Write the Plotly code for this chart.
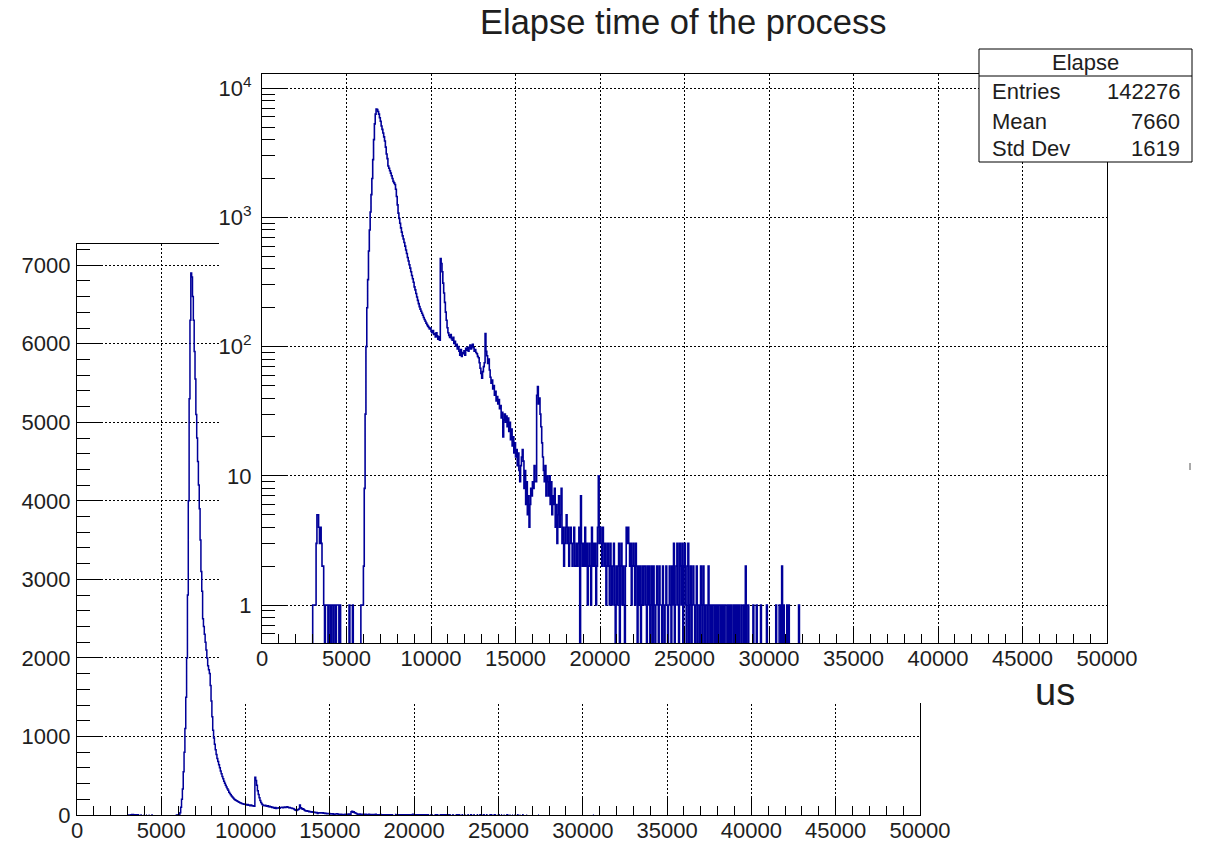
import numpy as np
import plotly.graph_objects as go

# ---------------------------------------------------------------------------
# Histogram "Elapse": 1000 bins of 50 us between 0 and 50000 us
# ---------------------------------------------------------------------------
BIN_WIDTH = 50
X_MIN, X_MAX = 0, 50000

# early cluster, bins starting at 3000 us
early_start = 3000
early_counts = [
    1, 1, 1, 1, 3, 5, 5, 4, 3, 4, 3, 2, 2, 1, 0, 1, 1, 1, 0, 1,
    1, 0, 1, 1, 0, 1, 1, 0, 1, 1, 1, 0, 1, 0, 0, 0, 0, 0, 0, 0,
    0, 0, 0, 1, 0, 0, 0, 1, 0, 0, 0, 0, 0, 0, 0, 0, 0, 1, 1, 1,
]

# main peak and its decay, bins starting at 6000 us
main_start = 6000
main_counts = [
    2, 8, 30, 100, 200, 330, 550, 800, 1100, 1500, 2000, 2800, 4000, 5300, 6300, 6900, 6850, 6600, 6300, 5900,
    5550, 5100, 4800, 4500, 4200, 3900, 3500, 3100, 2850, 2500, 2400, 2300, 2200, 2100, 2000, 1900, 1850, 1800, 1650, 1450,
    1250, 1080, 980, 900, 830, 770, 720, 680, 640, 600, 560, 525, 490, 460, 430, 405, 380, 355, 335, 315,
    290, 275, 258, 242, 228, 215, 204, 195, 188, 181, 175, 168, 162, 157, 152, 148, 144, 141, 137, 139,
    131, 128, 133, 124, 126, 119, 128, 121, 114, 119, 112, 480, 440, 380, 310, 260, 220, 185, 160, 140,
    128, 122, 118, 124, 115, 112, 118, 106, 110, 101, 104, 96, 100, 92, 86, 95, 84, 90, 88, 93,
    86, 97, 94, 99, 92, 98, 103, 96, 101, 104, 98, 92, 95, 90, 88, 84, 82, 75, 68, 62,
    57, 64, 70, 75, 126, 92, 85, 74, 80, 66, 58, 52, 55, 47, 50, 42, 45, 38, 41, 36,
    39, 33, 35, 28, 31, 20, 27, 30, 26, 29, 24, 28, 22, 26, 19, 23, 17, 20, 15, 18,
    14, 16, 12, 15, 11, 9, 12, 14, 16, 13, 8, 11, 6, 9, 5, 7, 4, 6, 8, 7,
    9, 8, 12, 9, 9, 42, 49, 36, 40, 30, 24, 18, 14, 11, 9, 12, 7, 10, 9, 7,
    10, 6, 9, 5, 7, 6, 8, 4, 6, 3, 5, 7, 4, 5, 8, 3, 4, 2, 3, 4,
    5, 3, 4, 2, 3, 4, 3, 2, 3, 4, 2, 2, 3, 2, 3, 4, 0, 7, 3, 2,
]

# long tail, bins starting at 19000 us
tail_start = 19000
tail_counts = [
    3, 2, 4, 2, 3, 1, 2, 3, 2, 1, 4, 2, 3, 2, 3, 1, 2, 4, 10, 3,
    4, 3, 2, 4, 3, 2, 3, 1, 2, 3, 2, 1, 3, 2, 1, 2, 3, 1, 0, 2,
    1, 2, 3, 0, 2, 3, 1, 2, 1, 0, 2, 4, 3, 4, 3, 2, 3, 1, 2, 3,
    2, 1, 3, 2, 0, 2, 1, 2, 0, 1, 2, 1, 2, 2, 1, 0, 2, 1, 2, 0,
    1, 2, 0, 2, 1, 0, 1, 2, 1, 0, 2, 1, 1, 0, 2, 1, 0, 1, 2, 1,
    0, 1, 2, 1, 0, 2, 1, 3, 0, 1, 2, 3, 1, 0, 3, 2, 1, 3, 0, 2,
    3, 1, 0, 2, 3, 0, 1, 2, 0, 1, 2, 1, 0, 1, 2, 0, 1, 1, 0, 2,
    1, 0, 2, 1, 0, 1, 1, 0, 2, 1, 0, 1, 0, 1, 1, 0, 1, 0, 1, 0,
    1, 1, 0, 1, 0, 1, 0, 1, 1, 0, 0, 1, 0, 1, 0, 1, 0, 0, 1, 0,
    1, 0, 1, 0, 1, 0, 0, 1, 0, 0, 1, 0, 2, 0, 0, 1, 0, 0, 0, 0,
    0, 1, 0, 0, 0, 1, 0, 0, 0, 0, 1, 0, 0, 0, 0, 0, 0, 1, 0, 0,
    0, 0, 0, 0, 0, 0, 0, 0, 1, 0, 0, 0, 1, 1, 0, 2, 0, 1, 0, 0,
    0, 1, 0, 1, 0, 0, 0, 0, 0, 0, 0, 0, 0, 0, 0, 1, 0, 0, 0, 0,
]

# statistics box
stats_title = "Elapse"
stats_labels = ["Entries", "Mean", "Std Dev"]
stats_values = ["142276", "7660", "1619"]

title_text = "Elapse time of the process"
x_title_text = "us"

x_tickvals = list(range(0, 50001, 5000))
lin_y_tickvals = list(range(0, 7001, 1000))
log_y_tickvals = [1, 10, 100, 1000, 10000]
log_y_ticktext = ["1", "10", "10<sup>2</sup>", "10<sup>3</sup>", "10<sup>4</sup>"]

# ---------------------------------------------------------------------------
# assemble the bin contents
# ---------------------------------------------------------------------------
n_bins = (X_MAX - X_MIN) // BIN_WIDTH
counts = np.zeros(n_bins)
for start, seg in ((early_start, early_counts),
                   (main_start, main_counts),
                   (tail_start, tail_counts)):
    i0 = (start - X_MIN) // BIN_WIDTH
    counts[i0:i0 + len(seg)] = seg

edges = X_MIN + BIN_WIDTH * np.arange(n_bins + 1)
y_step = np.append(counts, counts[-1])
# linear pad: empty bins are left out so the black frame stays visible
y_lin = [float(v) if v > 0 else None for v in y_step]
# log pad: empty bins fall below the frame so the outline drops out of view
y_log = np.where(y_step > 0, y_step, 0.1)

# ---------------------------------------------------------------------------
# geometry helpers (pixels -> paper fractions)
# ---------------------------------------------------------------------------
W, H = 1206, 841


def px_x(p):
    return p / W


def px_y(p):
    return 1 - p / H


FONT = "Liberation Sans, Arial, sans-serif"
TXT = "#1e1e1e"
LINE_COLOR = "#000099"
GRID = dict(showgrid=True, gridcolor="black", gridwidth=1, griddash="2px,2px")
FRAME = dict(showline=True, linecolor="black", linewidth=1.2, mirror=True,
             ticks="inside", tickcolor="black", tickwidth=1, zeroline=False,
             automargin=False,
             tickfont=dict(family=FONT, size=22, color=TXT))

fig = go.Figure()

# linear-scale histogram (main pad)
fig.add_trace(go.Scatter(
    x=edges, y=y_lin, mode="lines", line=dict(color=LINE_COLOR, width=1.5, shape="hv"),
    connectgaps=False, xaxis="x", yaxis="y", showlegend=False, hoverinfo="skip"))

# blank white pad that sits between the two plots
fig.add_trace(go.Scatter(
    x=[0.5], y=[0.5], mode="markers", marker=dict(opacity=0, size=1),
    xaxis="x2", yaxis="y2", showlegend=False, hoverinfo="skip"))

# log-scale histogram (upper pad)
fig.add_trace(go.Scatter(
    x=edges, y=y_log, mode="lines", line=dict(color=LINE_COLOR, width=1.6, shape="hv"),
    xaxis="x3", yaxis="y3", showlegend=False, hoverinfo="skip"))

hidden_axis = dict(showgrid=False, showline=False, zeroline=False, ticks="",
                   showticklabels=False, fixedrange=True, range=[0, 1], automargin=False)

fig.update_layout(
    template="none",
    width=W, height=H, autosize=False,
    margin=dict(l=0, r=0, t=0, b=0, pad=0, autoexpand=False),
    paper_bgcolor="white", plot_bgcolor="white",
    font=dict(family=FONT, color=TXT),
    showlegend=False,
    # main pad, linear y
    xaxis=dict(domain=[px_x(77), px_x(920)], range=[X_MIN, X_MAX], anchor="y",
               tickvals=x_tickvals, tickformat="d", ticklen=17, ticklabelstandoff=-5,
               minor=dict(ticks="inside", ticklen=9, dtick=1000, tickcolor="black", showgrid=False),
               **GRID, **FRAME),
    yaxis=dict(domain=[px_y(815), px_y(244)], range=[0, 7270], anchor="x",
               tickvals=lin_y_tickvals, tickformat="d", ticklen=25, ticklabelstandoff=1,
               minor=dict(ticks="inside", ticklen=13, dtick=200, tickcolor="black", showgrid=False),
               **GRID, **FRAME),
    xaxis2=dict(domain=[px_x(219), px_x(1205)], anchor="y2", **hidden_axis),
    yaxis2=dict(domain=[px_y(703), 1.0], anchor="x2", **hidden_axis),
    # upper pad, log y
    xaxis3=dict(domain=[px_x(262), px_x(1107)], range=[X_MIN, X_MAX], anchor="y3",
                tickvals=x_tickvals, tickformat="d", ticklen=17, ticklabelstandoff=-5,
                minor=dict(ticks="inside", ticklen=9, dtick=1000, tickcolor="black", showgrid=False),
                **GRID, **FRAME),
    yaxis3=dict(domain=[px_y(643), px_y(74)], type="log", range=[-0.294, 4.11], anchor="x3",
                tickvals=log_y_tickvals, ticktext=log_y_ticktext, ticklen=25, ticklabelstandoff=5,
                minor=dict(ticks="inside", ticklen=13, tickcolor="black", showgrid=False,
                           tickvals=[m * 10.0 ** k for k in range(-1, 4) for m in range(2, 10)
                                     if 0.5 < m * 10.0 ** k < 13000]),
                **GRID, **FRAME),
)

# statistics box
bx0, bx1, by0, by1, bsep = 979, 1192, 49, 162, 76
fig.add_shape(type="rect", xref="paper", yref="paper",
              x0=px_x(bx0), x1=px_x(bx1), y0=px_y(by1), y1=px_y(by0),
              fillcolor="white", line=dict(color="black", width=1), layer="above")
fig.add_shape(type="line", xref="paper", yref="paper",
              x0=px_x(bx0), x1=px_x(bx1), y0=px_y(bsep), y1=px_y(bsep),
              line=dict(color="black", width=1), layer="above")
fig.add_annotation(x=px_x((bx0 + bx1) / 2), y=px_y(62.5), xref="paper", yref="paper",
                   text=stats_title, showarrow=False, xanchor="center", yanchor="middle",
                   font=dict(family=FONT, size=22, color=TXT))
for row_y, lab, val in zip([91.5, 121.5, 148.5], stats_labels, stats_values):
    fig.add_annotation(x=px_x(990), y=px_y(row_y), xref="paper", yref="paper", text=lab,
                       showarrow=False, xanchor="left", yanchor="middle",
                       font=dict(family=FONT, size=22, color=TXT))
    fig.add_annotation(x=px_x(1182), y=px_y(row_y), xref="paper", yref="paper", text=val,
                       showarrow=False, xanchor="right", yanchor="middle",
                       font=dict(family=FONT, size=22, color=TXT))

# title and x-axis title
fig.add_annotation(x=px_x(683.5), y=px_y(22), xref="paper", yref="paper", text=title_text,
                   showarrow=False, xanchor="center", yanchor="middle",
                   font=dict(family=FONT, size=34.5, color=TXT))
fig.add_annotation(x=px_x(1055), y=px_y(692), xref="paper", yref="paper", text=x_title_text,
                   showarrow=False, xanchor="center", yanchor="middle",
                   font=dict(family=FONT, size=38, color=TXT))

# small stray mark at the right border of the upper pad
fig.add_shape(type="line", xref="paper", yref="paper",
              x0=px_x(1190), x1=px_x(1190), y0=px_y(470), y1=px_y(463),
              line=dict(color="#555555", width=1), layer="above")

fig.write_html("out.html")
